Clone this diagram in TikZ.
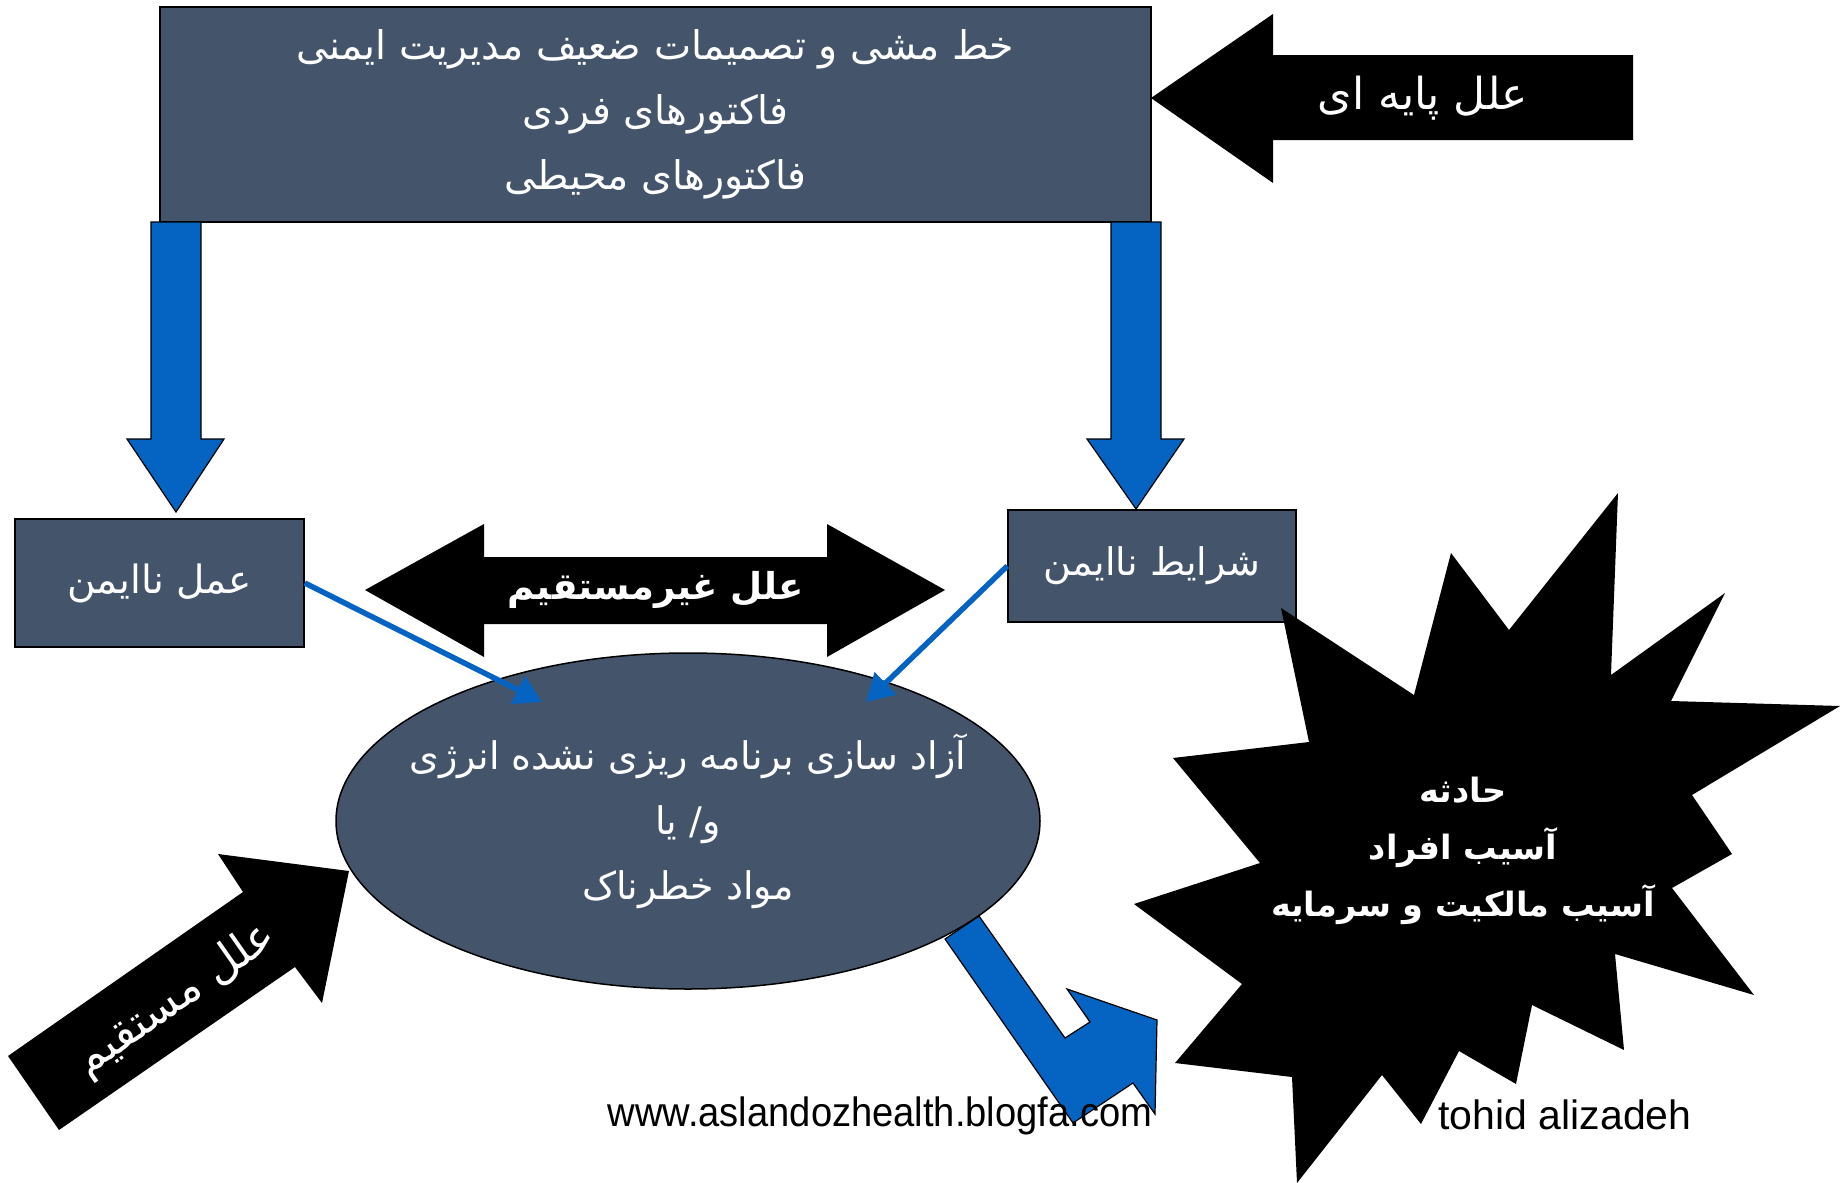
\documentclass[tikz,border=0pt]{standalone}
\usepackage{fontspec}
\TeXXeTstate=1
\setmainfont{DejaVu Sans}
\newfontfamily\farsi[Script=Arabic]{DejaVu Sans}
\newfontfamily\webfont[FakeStretch=0.93]{Liberation Sans}
\newfontfamily\namefont{Liberation Sans}
\usetikzlibrary{arrows.meta,shapes.geometric}
\definecolor{slate}{HTML}{44546A}
\definecolor{arrowblue}{HTML}{0563C1}
\newcommand{\rtltext}[1]{\beginR #1\endR}

\begin{document}
\begin{tikzpicture}[
    x=1pt,y=-1pt,
    box/.style={draw=black,line width=1.5pt,fill=slate,text=white,align=center,inner sep=0pt},
    bluearrow/.style={fill=arrowblue,draw=black,line width=1.2pt,line join=miter},
    pointer/.style={arrowblue,line width=5.5pt,-{Triangle[length=27pt,width=30pt]}},
    farsitext/.style={text=white,align=center,font=\farsi\fontsize{38}{65}\selectfont},
    boldtext/.style={text=white,align=center,font=\farsi\bfseries\fontsize{37}{57}\selectfont},
]
\useasboundingbox (0,0) rectangle (1840,1183);

% Root causes box
\node[box,farsitext,font=\farsi\fontsize{39.5}{65}\selectfont,
    minimum width=991pt,minimum height=215pt] (policy) at (655.5,114.5)
    {\rtltext{خط مشی و تصمیمات ضعیف مدیریت ایمنی}\\
     \rtltext{فاکتورهای فردی}\\
     \rtltext{فاکتورهای محیطی}};

% Arrow pointing at the root causes
\fill (1151,98) -- (1273,14) -- (1273,55) -- (1633,55) -- (1633,140)
    -- (1273,140) -- (1273,183) -- cycle;
\node[farsitext,font=\farsi\fontsize{44}{46}\selectfont] (basic) at (1423,98)
    {\rtltext{علل پایه ای}};

% Down arrows
\draw[bluearrow] (151,222) -- (151,439) -- (127,439) -- (176,512) -- (224,439)
    -- (201,439) -- (201,222) -- cycle;
\draw[bluearrow] (1111,222) -- (1111,439) -- (1087,439) -- (1136,509) -- (1184,439)
    -- (1161,439) -- (1161,222) -- cycle;

% Unsafe act and unsafe condition
\node[box,farsitext,font=\farsi\fontsize{39}{41}\selectfont,
    minimum width=289pt,minimum height=128pt] (act) at (159.5,583)
    {\rtltext{عمل ناایمن}};
\node[box,farsitext,minimum width=288pt,minimum height=112pt] (cond) at (1152,566)
    {\rtltext{شرایط ناایمن}};

% Indirect causes
\fill (365,590) -- (484,524) -- (484,557) -- (827,557) -- (827,524) -- (945,590)
    -- (827,657) -- (827,624) -- (484,624) -- (484,657) -- cycle;
\node[boldtext] (indirect) at (656,590) {\rtltext{علل غیرمستقیم}};

% Direct causes
\fill (8,1056) -- (243,892) -- (218,854) -- (349,871) -- (322,1003) -- (295,967)
    -- (59,1130) -- cycle;
\node[farsitext,font=\farsi\fontsize{45}{47}\selectfont,rotate=35] (direct) at (176,1000)
    {\rtltext{علل مستقیم}};

% Bent arrow to the accident
\draw[bluearrow] (979,916) -- (1065,1038) -- (1090,1022) -- (1067,989) -- (1157,1020)
    -- (1155,1114) -- (1133,1083) -- (1073,1123) -- (945,939) -- cycle;

% Energy release
\node[box,ellipse,minimum width=704pt,minimum height=336pt] (release) at (688,821) {};
\node[farsitext] (releasetext) at (release.center)
    {\rtltext{آزاد سازی برنامه ریزی نشده انرژی}\\
     \rtltext{و/ یا}\\
     \rtltext{مواد خطرناک}};

\coordinate (actend) at (542,702);
\coordinate (condend) at (866,702);
\draw[pointer] (act.east) -- (actend);
\draw[pointer] (cond.west) -- (condend);

% Accident burst
\fill (1618,493) -- (1611,675) -- (1725,593) -- (1671,701) -- (1840,706) -- (1692,795)
    -- (1732,854) -- (1672,888) -- (1754,995) -- (1615,954) -- (1624,1050) -- (1532,1005)
    -- (1516,1084) -- (1459,1051) -- (1421,1124) -- (1382,1075) -- (1297,1183)
    -- (1292,1077) -- (1175,1063) -- (1242,984) -- (1134,904) -- (1260,863) -- (1173,758)
    -- (1309,742) -- (1281,608) -- (1414,695) -- (1451,553) -- (1509,630) -- cycle;
\node[boldtext,font=\farsi\bfseries\fontsize{33.5}{57}\selectfont] (accident) at (1463,851)
    {\rtltext{حادثه}\\
     \rtltext{آسیب افراد}\\
     \rtltext{آسیب مالکیت و سرمایه}};

% Credits
\node[font=\webfont\fontsize{41}{44}\selectfont] (site) at (880,1116)
    {www.aslandozhealth.blogfa.com};
\node[font=\namefont\fontsize{41}{44}\selectfont] (author) at (1565,1115)
    {tohid alizadeh};
\end{tikzpicture}
\end{document}
